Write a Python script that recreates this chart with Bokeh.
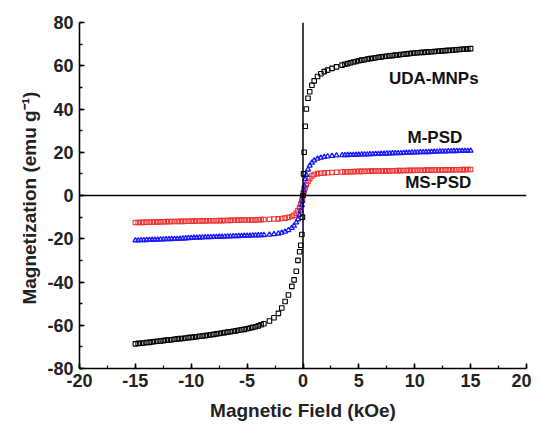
from bokeh.plotting import figure
from bokeh.models import Range1d, SingleIntervalTicker, Span, ColumnDataSource
from bokeh.core.properties import value
from bokeh.embed import file_html
from bokeh.resources import INLINE

# Magnetic field (kOe)
H_NEG_HIGH = [-15, -14.75, -14.5, -14.25, -14, -13.75, -13.5, -13.25, -13, -12.75,
              -12.5, -12.25, -12, -11.75, -11.5, -11.25, -11, -10.75, -10.5, -10.25,
              -10, -9.75, -9.5, -9.25, -9, -8.75, -8.5, -8.25, -8, -7.75,
              -7.5, -7.25, -7, -6.75, -6.5, -6.25, -6, -5.75, -5.5, -5.25,
              -5, -4.75, -4.5, -4.25, -4, -3.75, -3.5]
H_LOW = [-3, -2.6, -2.2, -1.9, -1.6, -1.3, -1.0, -0.8, -0.6, -0.45, -0.3, -0.2, -0.1, -0.05,
         0,
         0.05, 0.1, 0.2, 0.3, 0.45, 0.6, 0.8, 1.0, 1.3, 1.6, 1.9, 2.2, 2.6, 3]
H_POS_HIGH = [3.5, 3.75, 4, 4.25, 4.5, 4.75, 5, 5.25, 5.5, 5.75,
              6, 6.25, 6.5, 6.75, 7, 7.25, 7.5, 7.75, 8, 8.25,
              8.5, 8.75, 9, 9.25, 9.5, 9.75, 10, 10.25, 10.5, 10.75,
              11, 11.25, 11.5, 11.75, 12, 12.25, 12.5, 12.75, 13, 13.25,
              13.5, 13.75, 14, 14.25, 14.5, 14.75, 15]

# Magnetization (emu/g), UDA-MNPs
UDA_NEG_HIGH = [-68.6, -68.4, -68.3, -68.2, -68.0, -67.9, -67.7, -67.5, -67.4, -67.3,
                -67.1, -66.9, -66.8, -66.7, -66.5, -66.3, -66.2, -66.1, -65.9, -65.7,
                -65.6, -65.5, -65.3, -65.1, -65.0, -64.8, -64.6, -64.4, -64.2, -64.0,
                -63.8, -63.6, -63.4, -63.2, -63.0, -62.8, -62.6, -62.3, -62.1, -61.9,
                -61.6, -61.3, -61.0, -60.7, -60.3, -59.8, -59.3]
UDA_LOW = [-58.0, -56.5, -54.5, -52.0, -49.0, -46.0, -42.0, -39.0, -35.0, -30.0, -26.0, -23.0, -18.0, -10.0,
           0,
           10, 20, 32, 40, 45, 48, 51, 53, 55, 56.3, 57.3, 58.0, 58.8, 59.5]
UDA_POS_HIGH = [60.3, 60.7, 61.0, 61.4, 61.7, 62.0, 62.3, 62.6, 62.8, 63.1,
                63.3, 63.5, 63.7, 63.9, 64.1, 64.3, 64.4, 64.6, 64.7, 64.9,
                65.0, 65.2, 65.3, 65.5, 65.6, 65.8, 65.9, 66.0, 66.1, 66.2,
                66.3, 66.4, 66.5, 66.6, 66.7, 66.8, 66.9, 67.0, 67.1, 67.2,
                67.3, 67.4, 67.5, 67.6, 67.7, 67.8, 67.9]

# M-PSD
MPSD_NEG_HIGH = [-20.8, -20.75, -20.7, -20.7, -20.6, -20.55, -20.5, -20.45, -20.4, -20.35,
                 -20.3, -20.2, -20.2, -20.15, -20.1, -20.05, -20.0, -19.9, -19.8, -19.7,
                 -19.6, -19.55, -19.5, -19.45, -19.4, -19.3, -19.3, -19.25, -19.2, -19.15,
                 -19.1, -19.05, -19.0, -18.95, -18.9, -18.85, -18.8, -18.75, -18.7, -18.65,
                 -18.6, -18.55, -18.5, -18.45, -18.4, -18.35, -18.3]
MPSD_LOW = [-18.1, -17.9, -17.6, -17.2, -16.7, -16.0, -15.0, -14.0, -12.5, -11.0, -9.0, -7.0, -4.5, -2.5,
            0,
            2.5, 4.5, 7.5, 9.5, 12.0, 13.8, 15.2, 16.2, 17.0, 17.5, 17.8, 18.1, 18.3, 18.5]
MPSD_POS_HIGH = [18.6, 18.65, 18.7, 18.75, 18.8, 18.85, 18.9, 18.95, 19.0, 19.0,
                 19.1, 19.15, 19.2, 19.25, 19.3, 19.3, 19.4, 19.45, 19.5, 19.55,
                 19.6, 19.6, 19.7, 19.75, 19.8, 19.85, 19.9, 19.9, 20.0, 20.05,
                 20.1, 20.1, 20.2, 20.25, 20.3, 20.35, 20.4, 20.4, 20.5, 20.5,
                 20.55, 20.55, 20.6, 20.6, 20.65, 20.65, 20.7]

# MS-PSD
MSPSD_NEG_HIGH = [-12.5, -12.5, -12.45, -12.45, -12.4, -12.35, -12.3, -12.25, -12.2, -12.2,
                  -12.15, -12.1, -12.1, -12.05, -12.0, -12.0, -11.95, -11.95, -11.9, -11.9,
                  -11.85, -11.85, -11.8, -11.8, -11.75, -11.75, -11.7, -11.7, -11.65, -11.65,
                  -11.6, -11.6, -11.55, -11.55, -11.5, -11.45, -11.45, -11.4, -11.4, -11.35,
                  -11.35, -11.3, -11.3, -11.25, -11.2, -11.15, -11.1]
MSPSD_LOW = [-11.0, -10.9, -10.8, -10.65, -10.45, -10.1, -9.7, -9.1, -8.2, -7.0, -5.5, -4.0, -2.5, -1.5,
             0,
             1.2, 2.2, 3.6, 5.0, 6.5, 7.8, 9.0, 9.7, 10.1, 10.3, 10.45, 10.55, 10.65, 10.75]
MSPSD_POS_HIGH = [10.85, 10.9, 10.95, 11.0, 11.05, 11.1, 11.15, 11.15, 11.2, 11.2,
                  11.25, 11.25, 11.3, 11.3, 11.35, 11.35, 11.4, 11.4, 11.45, 11.45,
                  11.5, 11.5, 11.55, 11.55, 11.6, 11.6, 11.65, 11.65, 11.7, 11.7,
                  11.72, 11.74, 11.75, 11.77, 11.78, 11.8, 11.82, 11.85, 11.86, 11.88,
                  11.9, 11.9, 11.92, 11.95, 11.97, 12.0, 12.0]

series_names = ["UDA-MNPs", "M-PSD", "MS-PSD"]
label_x = [11.7, 11.8, 12.1]
label_y = [54, 27, 6]

x_ticks = [-20, -15, -10, -5, 0, 5, 10, 15, 20]
y_ticks = [-80, -60, -40, -20, 0, 20, 40, 60, 80]

H = H_NEG_HIGH + H_LOW + H_POS_HIGH
UDA_MNPs = UDA_NEG_HIGH + UDA_LOW + UDA_POS_HIGH
M_PSD = MPSD_NEG_HIGH + MPSD_LOW + MPSD_POS_HIGH
MS_PSD = MSPSD_NEG_HIGH + MSPSD_LOW + MSPSD_POS_HIGH
n = min(len(H), len(UDA_MNPs), len(M_PSD), len(MS_PSD))

FONT = "Liberation Sans"

p = figure(width=531, height=423, output_backend="svg", toolbar_location=None,
           x_range=Range1d(-20, 20), y_range=Range1d(-80, 80),
           min_border_left=79, min_border_right=5, min_border_top=22, min_border_bottom=53)
p.outline_line_color = None
p.xgrid.visible = False
p.ygrid.visible = False
p.background_fill_color = "white"
p.border_fill_color = "white"

p.xaxis.ticker = SingleIntervalTicker(interval=5, num_minor_ticks=2)
p.yaxis.ticker = SingleIntervalTicker(interval=20, num_minor_ticks=2)
p.xaxis.major_label_overrides = {t: str(t) for t in x_ticks}
p.yaxis.major_label_overrides = {t: str(t) for t in y_ticks}
for ax in (p.xaxis[0], p.yaxis[0]):
    ax.axis_line_width = 1.6
    ax.major_tick_in = 5
    ax.major_tick_out = 0
    ax.minor_tick_in = 3
    ax.minor_tick_out = 0
    ax.major_tick_line_width = 1.6
    ax.minor_tick_line_width = 1.3
    ax.major_label_text_font = FONT
    ax.major_label_text_font_style = "bold"
    ax.major_label_text_font_size = "18px"
    ax.major_label_text_color = "#222222"
    ax.axis_label_text_font = FONT
    ax.axis_label_text_font_style = "bold"
    ax.axis_label_text_font_size = "19px"
    ax.axis_label_text_color = "#222222"

p.xaxis.axis_label = "Magnetic Field (kOe)"
p.yaxis.axis_label = "Magnetization  (emu g\u207b\u00b9)"
p.xaxis.major_label_standoff = 5
p.yaxis.major_label_standoff = 6
p.xaxis.axis_label_standoff = 10
p.yaxis.axis_label_standoff = 4

p.add_layout(Span(location=0, dimension="width", line_color="black", line_width=1.5))
p.add_layout(Span(location=0, dimension="height", line_color="black", line_width=1.5))

src = ColumnDataSource(dict(H=H[:n], uda=UDA_MNPs[:n], mpsd=M_PSD[:n], mspsd=MS_PSD[:n]))
p.scatter("H", "mspsd", source=src, marker="square", size=4.5, fill_color=None,
          line_color="#ee3030", line_width=1.1)
p.scatter("H", "mpsd", source=src, marker="triangle", size=5, fill_color=None,
          line_color="#1a1aff", line_width=1.3)
p.scatter("H", "uda", source=src, marker="square", size=4.5, fill_color=None,
          line_color="black", line_width=1.1)

p.text(x=label_x, y=label_y, text=series_names, text_align="center", text_baseline="middle",
       text_font=value(FONT), text_font_style="bold", text_font_size="17px", text_color="#111111")

open("out.html", "w").write(file_html(p, INLINE))
